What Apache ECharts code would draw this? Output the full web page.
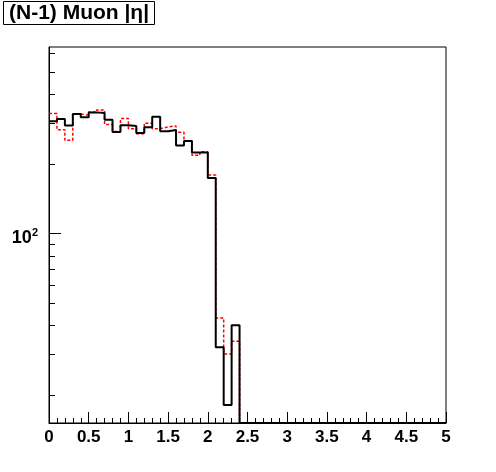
<!DOCTYPE html>
<html><head><meta charset="utf-8">
<script src="https://cdn.jsdelivr.net/npm/echarts@6/dist/echarts.min.js"></script>
<style>html,body{margin:0;padding:0;background:#fff}#c{width:496px;height:472px}</style>
</head><body><div id="c"></div>
<script>
// |eta| bin edges (0.1 wide bins, 0 .. 5)
const etaBinEdges = [0,0.1,0.2,0.3,0.4,0.5,0.6,0.7,0.8,0.9,1.0,1.1,1.2,1.3,1.4,1.5,1.6,1.7,1.8,1.9,
  2.0,2.1,2.2,2.3,2.4,2.5,2.6,2.7,2.8,2.9,3.0,3.1,3.2,3.3,3.4,3.5,3.6,3.7,3.8,3.9,
  4.0,4.1,4.2,4.3,4.4,4.5,4.6,4.7,4.8,4.9,5.0];
// black solid histogram (counts per bin)
const blackCounts = [306,313,293,329,318,334,332,310,275,294,292,272,288,320,277,280,240,251,224,224,
  174,32.3,18.2,40.2,0,0,0,0,0,0,0,0,0,0,0,0,0,0,0,0,0,0,0,0,0,0,0,0,0,0];
// red dashed histogram (counts per bin)
const redCounts = [330,281,253,329,325,335,342,296,276,314,284,270,300,284,289,292,274,252,218,226,
  179,43.2,30.2,34.3,0,0,0,0,0,0,0,0,0,0,0,0,0,0,0,0,0,0,0,0,0,0,0,0,0,0];
const yMinorTicks = [20,30,40,50,60,70,80,90,200,300,400,500,600];
const yMajorTicks = [100];
const Y_MIN = 15.2, Y_MAX = 640;
const titleText = '(N-1) Muon |η|';

function histPoints(counts) {
  const pts = [];
  for (let i = 0; i < counts.length; i++) {
    pts.push([etaBinEdges[i], counts[i] > 0 ? counts[i] : Y_MIN]);
  }
  pts.push([etaBinEdges[counts.length], pts[pts.length - 1][1]]);
  return pts;
}

const FONT = 'Liberation Sans';
const chart = echarts.init(document.getElementById('c'), null, {renderer: 'canvas'});
const logAxisBase = {
  type: 'log', logBase: 10, min: Y_MIN, max: Y_MAX, position: 'left',
  splitLine: {show: false}, minorTick: {show: false}, minorSplitLine: {show: false}
};
chart.setOption({
  animation: false,
  backgroundColor: '#fff',
  title: {
    text: titleText, left: 3, top: 1, padding: [2, 6, 1, 6],
    borderColor: '#000', borderWidth: 1, backgroundColor: '#fff',
    textStyle: {fontFamily: FONT, fontWeight: 'bold', fontSize: 21, color: '#000'}
  },
  grid: {left: 49, right: 50, top: 47, bottom: 49, show: true, borderColor: '#000', borderWidth: 1,
    backgroundColor: 'transparent', outerBoundsMode: 'none', containLabel: false},
  xAxis: {
    type: 'value', min: 0, max: 5, interval: 0.5,
    axisLine: {show: true, lineStyle: {color: '#000', width: 1}},
    axisTick: {show: true, inside: true, length: 11, lineStyle: {color: '#000', width: 1}},
    minorTick: {show: true, splitNumber: 5, length: 5, lineStyle: {color: '#000', width: 1}},
    splitLine: {show: false},
    axisLabel: {show: true, margin: 6, color: '#000', fontFamily: FONT, fontWeight: 'bold', fontSize: 17,
      showMinLabel: true, showMaxLabel: true}
  },
  yAxis: [
    Object.assign({}, logAxisBase, {
      axisLine: {show: true, lineStyle: {color: '#000', width: 1}},
      axisTick: {show: true, inside: true, length: 6, customValues: yMinorTicks, lineStyle: {color: '#000', width: 1}},
      axisLabel: {show: false}
    }),
    Object.assign({}, logAxisBase, {
      axisLine: {show: false},
      axisTick: {show: true, inside: true, length: 12, customValues: yMajorTicks, lineStyle: {color: '#000', width: 1}},
      axisLabel: {show: true, margin: 11, customValues: yMajorTicks, padding: [8, 0, 0, 0],
        formatter: function () { return '{b|10}{s|2}'; },
        rich: {
          b: {fontFamily: FONT, fontWeight: 'bold', fontSize: 18, color: '#000'},
          s: {fontFamily: FONT, fontWeight: 'bold', fontSize: 11, color: '#000', padding: [0, 0, 10, 0]}
        }}
    })
  ],
  series: [
    {
      name: 'red', type: 'line', step: 'end', yAxisIndex: 0, symbol: 'none', z: 2,
      data: histPoints(redCounts),
      lineStyle: {color: '#ff0000', width: 1.5, type: [3, 2]}
    },
    {
      name: 'black', type: 'line', step: 'end', yAxisIndex: 0, symbol: 'none', z: 3,
      data: histPoints(blackCounts),
      lineStyle: {color: '#000', width: 2}
    }
  ]
});
</script>
</body></html>
